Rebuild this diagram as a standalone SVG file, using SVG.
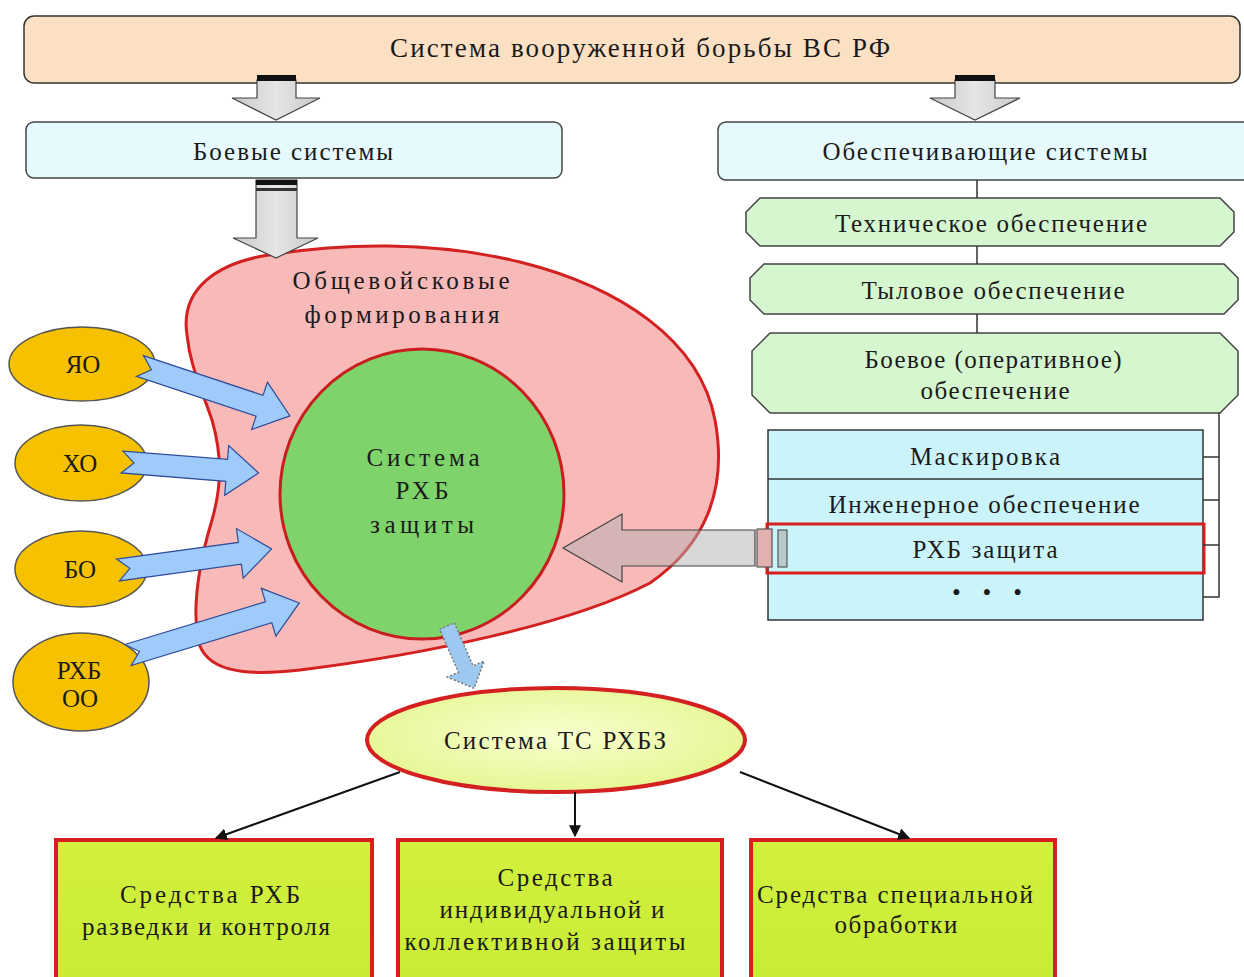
<svg xmlns="http://www.w3.org/2000/svg" width="1244" height="977" viewBox="0 0 1244 977">
  <style>
    text { font-family: "Liberation Serif", "DejaVu Serif", serif; font-size: 25px; fill: #1a1a1a; text-anchor: middle; }
    .title { font-size: 27px; }
    .bar { fill: #FCE0C4; stroke: #333; stroke-width: 1.5; }
    .cyan { fill: #E6FAFD; stroke: #444; stroke-width: 1.5; }
    .oct { fill: #D6F6CF; stroke: #444; stroke-width: 1.5; }
    .row { fill: #CBF4FA; stroke: #333; stroke-width: 1.5; }
    .oval { fill: #F6C200; stroke: #555; stroke-width: 1.5; }
    .blue { fill: #9ECBFA; stroke: #2E4C9A; stroke-width: 1.2; stroke-linejoin: miter; }
    .line { stroke: #333; stroke-width: 1.5; fill: none; }
    .blk { stroke: #111; stroke-width: 2; fill: none; marker-end: url(#head); }
    .lime { fill: url(#limeGrad); stroke: #D81E1E; stroke-width: 4; }
  </style>
  <defs>
    <marker id="head" viewBox="0 0 10 10" refX="9" refY="5" markerWidth="12" markerHeight="12" orient="auto" markerUnits="userSpaceOnUse">
      <path d="M0,0 L10,5 L0,10 Z" fill="#111"/>
    </marker>
    <radialGradient id="ellGrad" cx="0.5" cy="0.45" r="0.6">
      <stop offset="0" stop-color="#F8FFD0"/>
      <stop offset="1" stop-color="#E4F68E"/>
    </radialGradient>
    <linearGradient id="limeGrad" x1="0" y1="0" x2="0" y2="1">
      <stop offset="0" stop-color="#D2F03E"/>
      <stop offset="1" stop-color="#C8EC36"/>
    </linearGradient>
    <linearGradient id="grayGrad" x1="0" y1="0" x2="1" y2="0">
      <stop offset="0" stop-color="#C8C8C8"/>
      <stop offset="0.5" stop-color="#E6E6E6"/>
      <stop offset="1" stop-color="#C8C8C8"/>
    </linearGradient>
  </defs>

  <rect width="1244" height="977" fill="#fff"/>

  <!-- top level -->
  <g id="armed-struggle">
    <rect class="bar" x="24" y="16" width="1216" height="67" rx="10"/>
    <text class="title" x="640" y="57" textLength="500" lengthAdjust="spacing">Система вооруженной борьбы ВС РФ</text>
  </g>

  <g id="combat-systems">
    <rect class="cyan" x="26" y="122" width="536" height="56" rx="8"/>
    <text x="293" y="160" textLength="200" lengthAdjust="spacing">Боевые системы</text>
  </g>

  <g id="support-systems">
    <rect class="cyan" x="718" y="122" width="540" height="58" rx="8"/>
    <text x="985" y="160" textLength="325" lengthAdjust="spacing">Обеспечивающие системы</text>
  </g>

  <g id="technical-support">
    <path class="oct" d="M760,198 H1220 L1234,212 V232 L1220,246 H760 L746,232 V212 Z"/>
    <text x="991" y="232" textLength="312" lengthAdjust="spacing">Техническое обеспечение</text>
  </g>

  <g id="rear-support">
    <path class="oct" d="M764,264 H1224 L1238,278 V300 L1224,314 H764 L750,300 V278 Z"/>
    <text x="993" y="299" textLength="263" lengthAdjust="spacing">Тыловое обеспечение</text>
  </g>

  <g id="combat-support">
    <path class="oct" d="M770,333 H1220 L1238,351 V395 L1220,413 H770 L752,395 V351 Z"/>
    <text x="993" y="368" textLength="257" lengthAdjust="spacing">Боевое (оперативное)</text>
    <text x="995" y="399" textLength="149" lengthAdjust="spacing">обеспечение</text>
  </g>

  <g id="support-list">
    <rect class="row" x="768" y="430" width="435" height="190"/>
    <line class="line" x1="768" y1="479" x2="1203" y2="479"/>
    <line class="line" x1="768" y1="573" x2="1203" y2="573"/>
    <text x="985" y="465" textLength="150" lengthAdjust="spacing">Маскировка</text>
    <text x="984" y="513" textLength="311" lengthAdjust="spacing">Инженерное обеспечение</text>
    <rect x="767" y="524" width="437" height="49" fill="none" stroke="#D81E1E" stroke-width="3"/>
    <text x="985" y="558" textLength="145" lengthAdjust="spacing">РХБ защита</text>
    <text x="987" y="601" textLength="70" lengthAdjust="spacing">• • •</text>
  </g>

  <!-- combined-arms formations -->
  <g id="combined-arms">
    <path d="M187,335 C180,290 215,262 275,254 C340,244 430,240 520,262 C620,287 700,340 715,420 C728,490 705,545 650,583 C570,625 420,655 300,670 C240,677 205,670 198,640 C192,605 200,560 212,520 C222,485 222,455 212,420 C200,385 190,365 187,335 Z" fill="#F8B9B9" stroke="#D32020" stroke-width="3"/>
    <text x="401" y="289" textLength="217" lengthAdjust="spacing">Общевойсковые</text>
    <text x="402" y="323" textLength="195" lengthAdjust="spacing">формирования</text>
  </g>

  <g id="rchb-system">
    <ellipse cx="422" cy="494" rx="142" ry="145" fill="#7ED36B" stroke="#C81E1E" stroke-width="3"/>
    <text x="423" y="466" textLength="113" lengthAdjust="spacing">Система</text>
    <text x="422" y="499" textLength="53" lengthAdjust="spacing">РХБ</text>
    <text x="422" y="533" textLength="104" lengthAdjust="spacing">защиты</text>
  </g>

  <!-- threat sources -->
  <g id="nuclear">
    <ellipse class="oval" cx="82" cy="364" rx="73" ry="37"/>
    <text x="83" y="373">ЯО</text>
  </g>
  <g id="chemical">
    <ellipse class="oval" cx="81" cy="463" rx="66" ry="38"/>
    <text x="80" y="472">ХО</text>
  </g>
  <g id="biological">
    <ellipse class="oval" cx="81" cy="569" rx="66" ry="38"/>
    <text x="80" y="578">БО</text>
  </g>
  <g id="rchb-hazard">
    <ellipse class="oval" cx="81" cy="682" rx="68" ry="49"/>
    <text x="79" y="679">РХБ</text>
    <text x="80" y="707">ОО</text>
  </g>

  <g id="ts-rchbz">
    <ellipse cx="556" cy="740" rx="189" ry="52" fill="url(#ellGrad)" stroke="#D32020" stroke-width="4"/>
    <text x="555" y="749" textLength="222" lengthAdjust="spacing">Система ТС РХБЗ</text>
  </g>

  <g id="recon-means">
    <rect class="lime" x="56" y="840" width="316" height="145"/>
    <text x="210" y="903" textLength="180" lengthAdjust="spacing">Средства РХБ</text>
    <text x="206" y="935" textLength="248" lengthAdjust="spacing">разведки и контроля</text>
  </g>
  <g id="protection-means">
    <rect class="lime" x="398" y="840" width="324" height="145"/>
    <text x="555" y="886" textLength="115" lengthAdjust="spacing">Средства</text>
    <text x="552" y="918" textLength="225" lengthAdjust="spacing">индивидуальной и</text>
    <text x="545" y="950" textLength="281" lengthAdjust="spacing">коллективной защиты</text>
  </g>
  <g id="treatment-means">
    <rect class="lime" x="751" y="840" width="304" height="145"/>
    <text x="895" y="903" textLength="276" lengthAdjust="spacing">Средства специальной</text>
    <text x="896" y="933" textLength="123" lengthAdjust="spacing">обработки</text>
  </g>

  <!-- connectors -->
  <g id="connectors">
    <!-- block arrows from the top bar -->
    <path d="M257,80 H296 V98 H320 L276,120 L232,98 H257 Z" fill="url(#grayGrad)" stroke="#444" stroke-width="1.2"/>
    <rect x="257" y="75" width="39" height="6" fill="#111"/>
    <path d="M955,80 H995 V98 H1020 L975,120 L930,98 H955 Z" fill="url(#grayGrad)" stroke="#444" stroke-width="1.2"/>
    <rect x="955" y="75" width="40" height="6" fill="#111"/>

    <!-- combat systems to formations -->
    <path d="M256,180 H297 V238 H318 L276,258 L233,238 H256 Z" fill="url(#grayGrad)" stroke="#444" stroke-width="1.2"/>
    <rect x="256" y="180" width="41" height="5" fill="#111"/>
    <rect x="256" y="188" width="41" height="3" fill="#333"/>

    <!-- support chain -->
    <line class="line" x1="977" y1="180" x2="977" y2="198"/>
    <line class="line" x1="977" y1="246" x2="977" y2="264"/>
    <line class="line" x1="977" y1="314" x2="977" y2="333"/>
    <path class="line" d="M1219,413 V597 H1203 M1203,457 H1219 M1203,500 H1219 M1203,545 H1219"/>

    <!-- threat arrows -->
    <path class="blue" transform="translate(140,366) rotate(18.4)" d="M0,-11 H126 V-25 L158,0 L126,25 V11 H0 L12,0 Z"/>
    <path class="blue" transform="translate(122,462) rotate(4.6)" d="M0,-11 H105 V-25 L137,0 L105,25 V11 H0 L12,0 Z"/>
    <path class="blue" transform="translate(118,570) rotate(-7.8)" d="M0,-11 H123 V-25 L155,0 L123,25 V11 H0 L12,0 Z"/>
    <path class="blue" transform="translate(128,655) rotate(-16.9)" d="M0,-11 H147 V-25 L179,0 L147,25 V11 H0 L12,0 Z"/>

    <!-- РХБ защита into the system -->
    <path d="M755,530 H622 V514 L563,548 L622,582 V566 H755 Z" fill="#B0B0B0" fill-opacity="0.5" stroke="#444" stroke-width="1.2"/>
    <rect x="757" y="529" width="15" height="38" fill="#E3AFAF" stroke="#555" stroke-width="1.2"/>
    <rect x="778" y="530" width="9" height="37" fill="#B9CACA" stroke="#555" stroke-width="1.2"/>

    <!-- system to technical means -->
    <path transform="translate(447,626) rotate(66.5)" d="M0,-8 H47 V-20 L68,0 L47,20 V8 H0 Z" fill="#9DC8F0" stroke="#777" stroke-width="1.5" stroke-dasharray="2 2"/>

    <!-- technical means branches -->
    <line class="blk" x1="400" y1="772" x2="216" y2="838"/>
    <line class="blk" x1="575" y1="792" x2="575" y2="836"/>
    <line class="blk" x1="740" y1="772" x2="909" y2="838"/>
  </g>
</svg>
